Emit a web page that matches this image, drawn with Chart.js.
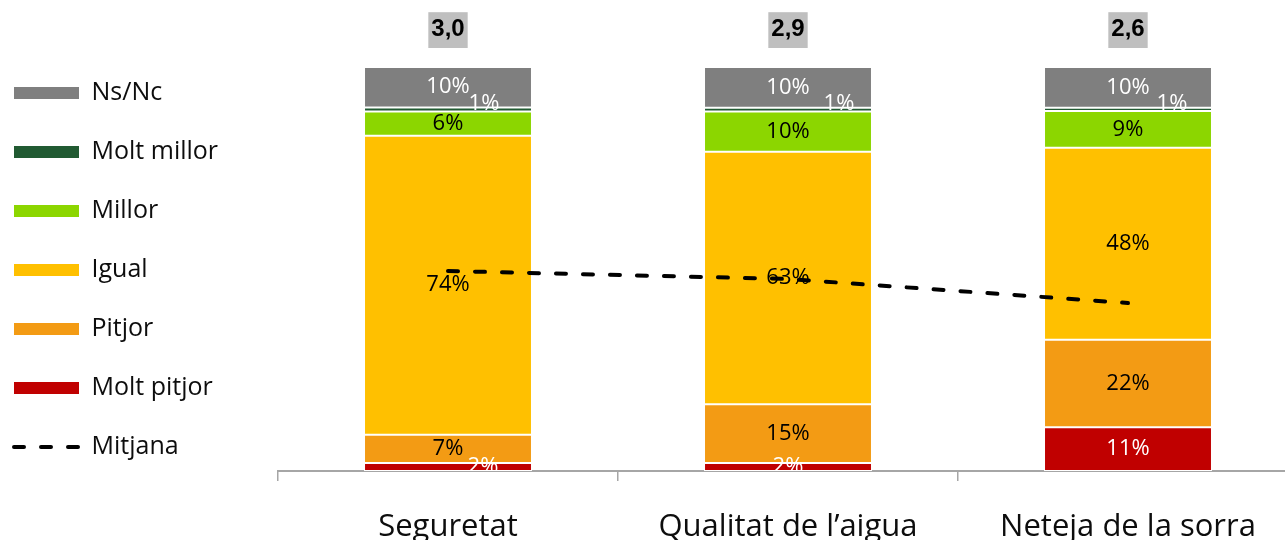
<!DOCTYPE html>
<html>
<head>
<meta charset="utf-8">
<script src="https://cdn.jsdelivr.net/npm/chart.js@4.4.1/dist/chart.umd.min.js"></script>
<style>
  html, body { margin: 0; padding: 0; background: #fff; overflow: hidden; }
  /* the plot runs a little past the right edge of the window, as in the original */
  #wrap { width: 1298px; height: 540px; }
</style>
</head>
<body>
<div id="wrap"><canvas id="chart"></canvas></div>
<script>
// --- data ---
const categories = ["Seguretat", "Qualitat de l\u2019aigua", "Neteja de la sorra"];
const moltPitjor = [2, 2, 10.8];
const pitjor     = [7, 14.5, 21.7];
const igual      = [74, 62.5, 47.5];
const millor     = [6, 10, 9.1];
const moltMillor = [1, 0.9, 0.8];
const nsNc       = [10, 10.1, 10.1];
const mitjana    = [3.0, 2.9, 2.6];

const FONT = '"Open Sans", sans-serif';

// label colour inside each segment, and a few hand-nudged labels like the original
const labelColors = {
    "Molt pitjor": "#ffffff",
    "Pitjor": "#000000",
    "Igual": "#000000",
    "Millor": "#000000",
    "Molt millor": "#ffffff",
    "Ns/Nc": "#ffffff",
};
const labelOffsets = {
    "Molt millor": [[36, -6], [51, -6], [44, -6]],
    "Molt pitjor": [[35, 0], [0, 0], [0, 0]],
};

function barSet(label, data, color) {
    return {
        label: label,
        data: data,
        backgroundColor: color,
        borderColor: "#ffffff",
        borderWidth: 1,
        borderSkipped: false,
        categoryPercentage: 1,
        barPercentage: 0.494,
        yAxisID: "y",
        order: 1,
    };
}

const segmentLabels = {
    id: "segmentLabels",
    afterDatasetsDraw(chart) {
        const { ctx, chartArea } = chart;
        ctx.save();
        ctx.beginPath();
        ctx.rect(chartArea.left, chartArea.top, chartArea.right - chartArea.left, chartArea.bottom - chartArea.top);
        ctx.clip();
        ctx.font = "22px " + FONT;
        ctx.textAlign = "center";
        ctx.textBaseline = "middle";
        chart.data.datasets.forEach((ds, i) => {
            if (ds.type === "line") return;
            const meta = chart.getDatasetMeta(i);
            meta.data.forEach((bar, j) => {
                const off = (labelOffsets[ds.label] || [])[j] || [0, 0];
                ctx.fillStyle = labelColors[ds.label];
                ctx.fillText(Math.round(ds.data[j]) + "%", bar.x + off[0], (bar.y + bar.base) / 2 + off[1]);
            });
        });
        ctx.restore();
    },
};

// Ns/Nc on top, Molt pitjor at the bottom, Mitjana last
function legendRank(item, data) {
    const ds = data.datasets[item.datasetIndex];
    return ds.type === "line" ? 99 : -item.datasetIndex;
}

new Chart(document.getElementById("chart"), {
    type: "bar",
    data: {
        labels: categories,
        datasets: [
            barSet("Molt pitjor", moltPitjor, "#c00000"),
            barSet("Pitjor", pitjor, "#f39b14"),
            barSet("Igual", igual, "#ffc000"),
            barSet("Millor", millor, "#8cd600"),
            barSet("Molt millor", moltMillor, "#215a32"),
            barSet("Ns/Nc", nsNc, "#7f7f7f"),
            {
                type: "line",
                label: "Mitjana",
                data: mitjana,
                yAxisID: "y2",
                borderColor: "#000000",
                backgroundColor: "#000000",
                borderWidth: 4,
                borderDash: [10, 17],
                borderCapStyle: "round",
                pointRadius: 0,
                fill: false,
                tension: 0,
                order: 0,
            },
        ],
    },
    options: {
        responsive: true,
        maintainAspectRatio: false,
        animation: false,
        layout: { autoPadding: false, padding: { left: -20, right: 0, top: 0, bottom: 0 } },
        plugins: {
            tooltip: { enabled: false },
            legend: {
                position: "left",
                labels: {
                    usePointStyle: true,
                    pointStyleWidth: 65,
                    boxHeight: 12,
                    padding: 34,
                    color: "#0d0d0d",
                    font: { family: FONT, size: 25 },
                    sort: (a, b, data) => legendRank(a, data) - legendRank(b, data),
                    generateLabels(c) {
                        const items = Chart.defaults.plugins.legend.labels.generateLabels(c);
                        return items.map(it => {
                            const ds = c.data.datasets[it.datasetIndex];
                            if (ds.type === "line") {
                                return { ...it, pointStyle: "line", lineDash: [10, 17], lineCap: "round",
                                         lineWidth: 4, strokeStyle: "#000000", fillStyle: "#000000" };
                            }
                            return { ...it, pointStyle: "rect", lineWidth: 0, fillStyle: ds.backgroundColor };
                        });
                    },
                },
            },
        },
        scales: {
            x: {
                stacked: true,
                offset: true,
                grid: { display: true, drawOnChartArea: false, drawTicks: true, tickLength: 10,
                        color: "#a6a6a6", lineWidth: 1.5, offset: true },
                border: { display: true, color: "#a6a6a6", width: 2 },
                ticks: { color: "#0d0d0d", padding: 28, font: { family: FONT, size: 31 } },
                afterFit: s => { s.height = 69; },
            },
            x2: {
                type: "category",
                position: "top",
                labels: mitjana.map(v => v.toFixed(1).replace(".", ",")),
                offset: true,
                grid: { display: false, drawTicks: false },
                border: { display: false },
                ticks: {
                    color: "#000000",
                    padding: 23,
                    font: { family: '"Liberation Sans", Arial, sans-serif', size: 24, weight: "bold" },
                    showLabelBackdrop: true,
                    backdropColor: "#bfbfbf",
                    backdropPadding: { top: 3, bottom: 4, left: 3, right: 3 },
                },
                afterFit: s => { s.height = 67; },
            },
            y: {
                stacked: true,
                min: 0,
                max: 100,
                display: true,
                grid: { display: false, drawTicks: false },
                border: { display: false },
                ticks: { display: false },
                afterFit: s => { s.width = 298 - s.chart.legend.width; },
            },
            y2: {
                position: "right",
                min: 0.5,
                max: 5.55,
                display: false,
            },
        },
    },
    plugins: [segmentLabels],
});
</script>
</body>
</html>
